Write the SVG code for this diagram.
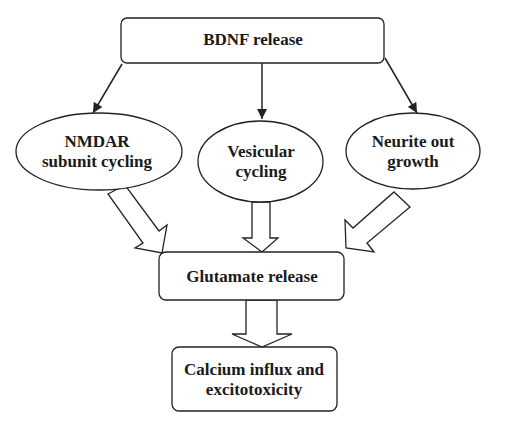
<svg xmlns="http://www.w3.org/2000/svg" width="510" height="425" viewBox="0 0 510 425">
<style>
.box{fill:#fff;stroke:#222;stroke-width:1.3}
.blk{fill:#fff;stroke:#222;stroke-width:1.3;stroke-linejoin:miter}
.line{stroke:#222;stroke-width:1.5;fill:none}
text{font-family:"Liberation Serif","Times New Roman",serif;font-weight:bold;font-size:17px;fill:#1a1a1a;text-anchor:middle}
</style>
<defs>
<marker id="ah" viewBox="0 0 10 10" refX="10" refY="5" markerWidth="10" markerHeight="10" markerUnits="userSpaceOnUse" orient="auto">
<path d="M0,0 L10,5 L0,10 Z" fill="#222"/>
</marker>
</defs>
<rect width="510" height="425" fill="#fff"/>
<g id="connectors">
<line class="line" x1="122" y1="64" x2="93" y2="113" marker-end="url(#ah)"/>
<line class="line" x1="262" y1="63" x2="262" y2="119" marker-end="url(#ah)"/>
<line class="line" x1="385" y1="58" x2="417" y2="113" marker-end="url(#ah)"/>
<polygon class="blk" points="108,194 125,185 159,231 167,225 162,253 135,248 143,243"/>
<polygon class="blk" points="252,202 270,202 270,238 278,238 262,252 243,238 252,238"/>
<polygon class="blk" points="394,192 410,207 367,243 374,252 346,248 345,220 353,228"/>
<polygon class="blk" points="246,300 277,300 277,334 292,334 262,347 232,334 246,334"/>
</g>
<g id="bdnf">
<rect class="box" x="121" y="18" width="263" height="45" rx="6"/>
<text x="253" y="45">BDNF release</text>
</g>
<g id="nmdar">
<ellipse class="box" cx="99" cy="151.5" rx="83" ry="38.5"/>
<text x="97" y="147">NMDAR</text>
<text x="97" y="167">subunit cycling</text>
</g>
<g id="vesicular">
<ellipse class="box" cx="260.5" cy="161.5" rx="62.5" ry="40.5"/>
<text x="261" y="157">Vesicular</text>
<text x="261" y="177">cycling</text>
</g>
<g id="neurite">
<ellipse class="box" cx="413" cy="151" rx="67" ry="38"/>
<text x="413" y="147">Neurite out</text>
<text x="413" y="167">growth</text>
</g>
<g id="glutamate">
<rect class="box" x="159" y="252" width="185" height="48" rx="7"/>
<text x="252" y="282">Glutamate release</text>
</g>
<g id="calcium">
<rect class="box" x="172" y="347" width="165" height="64" rx="7"/>
<text x="254" y="375">Calcium influx and</text>
<text x="254" y="395">excitotoxicity</text>
</g>
</svg>
